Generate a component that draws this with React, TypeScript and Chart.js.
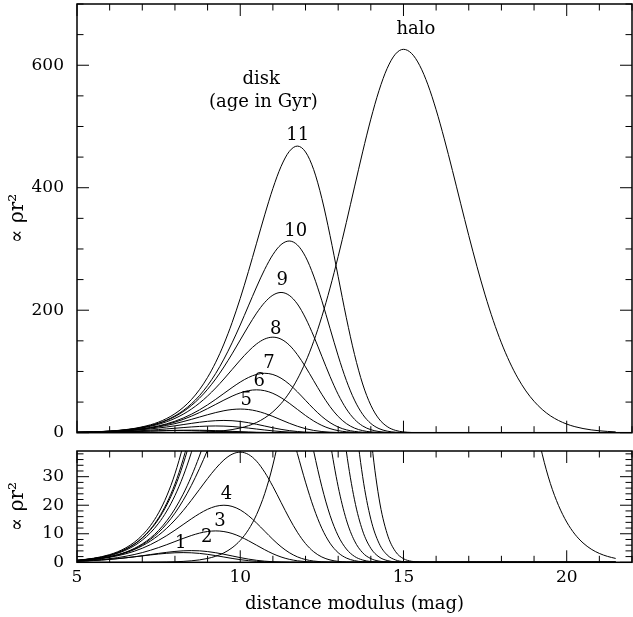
import React, { useEffect, useRef } from 'react';
import { Chart, registerables } from 'chart.js';

Chart.register(...registerables);

// distance modulus grid (mag)
const X = [
  5, 5.25, 5.5, 5.75, 6, 6.25, 6.5, 6.75, 7, 7.25, 7.5, 7.75, 8, 8.25, 8.5, 8.75,
  9, 9.25, 9.5, 9.75, 10, 10.25, 10.5, 10.75, 11, 11.25, 11.5, 11.75, 12, 12.25, 12.5, 12.75,
  13, 13.25, 13.5, 13.75, 14, 14.25, 14.5, 14.75, 15, 15.25, 15.5, 15.75, 16, 16.25, 16.5, 16.75,
  17, 17.25, 17.5, 17.75, 18, 18.25, 18.5, 18.75, 19, 19.25, 19.5, 19.75, 20, 20.25, 20.5, 20.75,
  21, 21.25, 21.5,
];

// disk, age 1 Gyr
const AGE_1 = [
  0.39, 0.51, 0.66, 0.84, 1.05, 1.31, 1.59, 1.91, 2.25, 2.58, 2.9, 3.16, 3.34, 3.4, 3.33, 3.12,
  2.78, 2.34, 1.85, 1.36, 0.93, 0.58, 0.33, 0.16, 0.07, 0.03, 0.01, 0, 0, 0, 0, 0,
  0, 0, 0, 0, 0, 0, 0, 0, 0, 0, 0, 0, 0, 0, 0, 0,
  0, 0, 0, 0, 0, 0, 0, 0, 0, 0, 0, 0, 0, 0, 0, 0,
  0, 0, 0,
];
const AGE_2 = [
  0.36, 0.47, 0.61, 0.79, 1.01, 1.27, 1.57, 1.92, 2.3, 2.71, 3.12, 3.49, 3.81, 4.02, 4.1, 4.02,
  3.76, 3.35, 2.82, 2.23, 1.64, 1.12, 0.7, 0.39, 0.2, 0.09, 0.03, 0.01, 0, 0, 0, 0,
  0, 0, 0, 0, 0, 0, 0, 0, 0, 0, 0, 0, 0, 0, 0, 0,
  0, 0, 0, 0, 0, 0, 0, 0, 0, 0, 0, 0, 0, 0, 0, 0,
  0, 0, 0,
];
const AGE_3 = [
  0.41, 0.55, 0.73, 0.96, 1.27, 1.65, 2.12, 2.71, 3.4, 4.22, 5.16, 6.18, 7.27, 8.36, 9.37, 10.22,
  10.79, 11, 10.77, 10.1, 8.99, 7.57, 5.99, 4.41, 3.0, 1.87, 1.05, 0.53, 0.24, 0.09, 0.03, 0.01,
  0, 0, 0, 0, 0, 0, 0, 0, 0, 0, 0, 0, 0, 0, 0, 0,
  0, 0, 0, 0, 0, 0, 0, 0, 0, 0, 0, 0, 0, 0, 0, 0,
  0, 0, 0,
];
const AGE_4 = [
  0.55, 0.74, 0.99, 1.33, 1.75, 2.3, 3.0, 3.86, 4.92, 6.19, 7.68, 9.37, 11.24, 13.22, 15.2, 17.04,
  18.58, 19.62, 20, 19.59, 18.36, 16.35, 13.77, 10.89, 8.02, 5.46, 3.4, 1.91, 0.96, 0.43, 0.16, 0.05,
  0.01, 0, 0, 0, 0, 0, 0, 0, 0, 0, 0, 0, 0, 0, 0, 0,
  0, 0, 0, 0, 0, 0, 0, 0, 0, 0, 0, 0, 0, 0, 0, 0,
  0, 0, 0,
];
const AGE_5 = [
  0.57, 0.78, 1.06, 1.43, 1.92, 2.56, 3.38, 4.44, 5.79, 7.45, 9.5, 11.95, 14.82, 18.09, 21.7, 25.52,
  29.34, 32.89, 35.86, 37.87, 38.6, 37.81, 35.43, 31.55, 26.58, 21.01, 15.48, 10.54, 6.56, 3.69, 1.86, 0.83,
  0.32, 0.1, 0.03, 0.01, 0, 0, 0, 0, 0, 0, 0, 0, 0, 0, 0, 0,
  0, 0, 0, 0, 0, 0, 0, 0, 0, 0, 0, 0, 0, 0, 0, 0,
  0, 0, 0,
];
const AGE_6 = [
  0.56, 0.76, 1.04, 1.42, 1.92, 2.59, 3.48, 4.64, 6.14, 8.06, 10.49, 13.52, 17.22, 21.67, 26.87, 32.81,
  39.35, 46.28, 53.2, 59.65, 65.02, 68.67, 70, 68.57, 64.25, 57.22, 48.2, 38.11, 28.08, 19.11, 11.89, 6.7,
  3.37, 1.5, 0.58, 0.19, 0.05, 0.01, 0, 0, 0, 0, 0, 0, 0, 0, 0, 0,
  0, 0, 0, 0, 0, 0, 0, 0, 0, 0, 0, 0, 0, 0, 0, 0,
  0, 0, 0,
];
const AGE_7 = [
  0.56, 0.77, 1.06, 1.44, 1.97, 2.67, 3.59, 4.82, 6.43, 8.5, 11.16, 14.54, 18.73, 23.86, 30.02, 37.24,
  45.46, 54.52, 64.14, 73.72, 82.66, 90.1, 95.16, 97, 95.01, 89.03, 79.29, 66.78, 52.81, 38.91, 26.48, 16.48,
  9.28, 4.67, 2.07, 0.8, 0.26, 0.07, 0.02, 0, 0, 0, 0, 0, 0, 0, 0, 0,
  0, 0, 0, 0, 0, 0, 0, 0, 0, 0, 0, 0, 0, 0, 0, 0,
  0, 0, 0,
];
const AGE_8 = [
  0.65, 0.9, 1.24, 1.7, 2.32, 3.16, 4.29, 5.78, 7.76, 10.34, 13.68, 17.96, 23.38, 30.12, 38.38, 48.28,
  59.89, 73.12, 87.69, 103.1, 118.6, 132.9, 144.9, 153.0, 156, 152.8, 143.2, 127.5, 107.4, 84.9, 62.6, 42.6,
  26.5, 14.9, 7.51, 3.34, 1.29, 0.42, 0.12, 0.03, 0, 0, 0, 0, 0, 0, 0, 0,
  0, 0, 0, 0, 0, 0, 0, 0, 0, 0, 0, 0, 0, 0, 0, 0,
  0, 0, 0,
];
const AGE_9 = [
  0.69, 0.96, 1.32, 1.82, 2.49, 3.41, 4.64, 6.29, 8.49, 11.39, 15.17, 20.08, 26.36, 34.33, 44.22, 56.33,
  70.88, 87.91, 107.3, 128.7, 151.4, 174.0, 195.2, 212.7, 224.6, 229, 224.3, 210.2, 187.2, 157.7, 124.7, 91.9,
  62.5, 38.9, 21.9, 11.0, 4.9, 1.89, 0.62, 0.17, 0.04, 0.01, 0, 0, 0, 0, 0, 0,
  0, 0, 0, 0, 0, 0, 0, 0, 0, 0, 0, 0, 0, 0, 0, 0,
  0, 0, 0,
];
const AGE_10 = [
  0.68, 0.94, 1.31, 1.8, 2.48, 3.41, 4.66, 6.34, 8.6, 11.6, 15.56, 20.74, 27.44, 36.03, 46.92, 60.44,
  77.0, 96.87, 120.2, 146.7, 175.9, 207.0, 237.9, 266.7, 290.7, 307.1, 313, 306.6, 287.3, 255.8, 215.5, 170.4,
  125.5, 85.4, 53.2, 30.0, 15.1, 6.7, 2.58, 0.85, 0.23, 0.05, 0.01, 0, 0, 0, 0, 0,
  0, 0, 0, 0, 0, 0, 0, 0, 0, 0, 0, 0, 0, 0, 0, 0,
  0, 0, 0,
];
const AGE_11 = [
  0.73, 1.02, 1.41, 1.95, 2.7, 3.71, 5.1, 6.97, 9.49, 12.86, 17.34, 23.27, 31.01, 41.03, 53.87, 70.15,
  90.37, 115.1, 144.8, 179.7, 219.3, 263.1, 309.4, 355.7, 398.8, 434.7, 459.1, 468, 458.4, 429.5, 382.5, 322.2,
  254.8, 187.7, 127.8, 79.5, 44.8, 22.5, 10.0, 3.86, 1.27, 0.35, 0.08, 0.01, 0, 0, 0, 0,
  0, 0, 0, 0, 0, 0, 0, 0, 0, 0, 0, 0, 0, 0, 0, 0,
  0, 0, 0,
];
// halo
const HALO = [
  0, 0, 0, 0, 0, 0.004, 0.008, 0.013, 0.022, 0.04, 0.066, 0.11, 0.19, 0.31, 0.52, 0.84,
  1.35, 2.12, 3.31, 5.08, 7.67, 11.4, 16.7, 24.08, 34.1, 47.47, 64.98, 87.45, 115.3, 149.2, 189.7, 236.1,
  287.8, 343.4, 401.3, 458.5, 512.0, 558.5, 594.8, 618.0, 626, 619.2, 599.3, 568.0, 527.3, 479.8, 428.1, 374.7,
  321.9, 271.6, 225.0, 183.2, 146.7, 115.6, 89.5, 68.2, 51.3, 37.9, 27.6, 19.9, 14.1, 9.85, 6.79, 4.61,
  3.11, 2.07, 1.35,
];

const SERIES = [AGE_1, AGE_2, AGE_3, AGE_4, AGE_5, AGE_6, AGE_7, AGE_8, AGE_9, AGE_10, AGE_11, HALO];

const X_TICKS = [5, 10, 15, 20];
const TOP_Y_TICKS = [0, 200, 400, 600];
const BOTTOM_Y_TICKS = [0, 10, 20, 30];

const TOP_LABELS = [
  { text: 'halo', x: 15.38, y: 658 },
  { text: 'disk', x: 10.64, y: 577 },
  { text: '(age in Gyr)', x: 10.71, y: 540 },
  { text: '11', x: 11.76, y: 486 },
  { text: '10', x: 11.7, y: 329 },
  { text: '9', x: 11.29, y: 248 },
  { text: '8', x: 11.09, y: 168 },
  { text: '7', x: 10.88, y: 113 },
  { text: '6', x: 10.58, y: 83.5 },
  { text: '5', x: 10.18, y: 53 },
];
const BOTTOM_LABELS = [
  { text: '4', x: 9.58, y: 23.7 },
  { text: '3', x: 9.38, y: 14.2 },
  { text: '2', x: 8.97, y: 8.9 },
  { text: '1', x: 8.18, y: 6.8 },
];

const FAMILY = '"DejaVu Serif", "Liberation Serif", serif';

function makeFrame(yMinor: number, yMajor: number) {
  return {
    id: 'frame',
    afterDatasetsDraw(chart: any) {
      const { ctx, chartArea: a } = chart;
      const xs = chart.scales.x;
      const ys = chart.scales.y;
      ctx.save();
      ctx.strokeStyle = '#000';
      ctx.lineWidth = 1;
      ctx.beginPath();
      for (let v = Math.ceil(xs.min); v <= xs.max + 1e-9; v += 1) {
        const p = xs.getPixelForValue(v);
        const L = v % 5 === 0 ? 12 : 6.5;
        ctx.moveTo(p, a.bottom);
        ctx.lineTo(p, a.bottom - L);
        ctx.moveTo(p, a.top);
        ctx.lineTo(p, a.top + L);
      }
      for (let v = ys.min; v <= ys.max + 1e-9; v += yMinor) {
        const p = ys.getPixelForValue(v);
        const r = v / yMajor;
        const L = Math.abs(r - Math.round(r)) < 1e-6 ? 12 : 6.5;
        ctx.moveTo(a.left, p);
        ctx.lineTo(a.left + L, p);
        ctx.moveTo(a.right, p);
        ctx.lineTo(a.right - L, p);
      }
      ctx.stroke();
      ctx.lineWidth = 1.5;
      ctx.strokeRect(a.left, a.top, a.right - a.left, a.bottom - a.top);
      ctx.restore();
    },
  };
}

function makeLabels(labels: { text: string; x: number; y: number }[]) {
  return {
    id: 'curveLabels',
    afterDatasetsDraw(chart: any) {
      const ctx = chart.ctx;
      ctx.save();
      ctx.fillStyle = '#000';
      ctx.font = `18px ${FAMILY}`;
      ctx.textAlign = 'center';
      ctx.textBaseline = 'middle';
      labels.forEach((l) => {
        ctx.fillText(l.text, chart.scales.x.getPixelForValue(l.x), chart.scales.y.getPixelForValue(l.y));
      });
      ctx.restore();
    },
  };
}

function buildConfig(isTop: boolean): any {
  const tickFont = { family: FAMILY, size: 17 };
  return {
    type: 'line',
    data: {
      datasets: SERIES.map((s) => ({
        data: X.map((x, i) => ({ x, y: s[i] })),
        borderColor: '#000',
        borderWidth: 1,
        pointRadius: 0,
        fill: false,
        cubicInterpolationMode: 'monotone',
      })),
    },
    options: {
      responsive: false,
      animation: false,
      events: [],
      layout: { padding: { left: 0, right: 1, top: isTop ? 4 : 6, bottom: 0 } },
      plugins: { legend: { display: false }, tooltip: { enabled: false } },
      scales: {
        x: {
          type: 'linear',
          min: 5,
          max: 22,
          grid: { display: false, drawTicks: false },
          border: { display: false },
          ticks: {
            display: !isTop,
            autoSkip: false,
            maxRotation: 0,
            padding: 5,
            color: '#000',
            font: tickFont,
          },
          afterBuildTicks: (s: any) => {
            s.ticks = X_TICKS.map((v) => ({ value: v }));
          },
          afterFit: (s: any) => {
            s.height = isTop ? 12.3 : 54.7;
            s.paddingLeft = 0;
            s.paddingRight = 0;
            s.paddingTop = 0;
            s.paddingBottom = 0;
          },
          title: {
            display: !isTop,
            text: 'distance modulus (mag)',
            color: '#000',
            font: { family: FAMILY, size: 18 },
            padding: { top: 2, bottom: 2 },
          },
        },
        y: {
          type: 'linear',
          min: 0,
          max: isTop ? 700 : 39,
          grid: { display: false, drawTicks: false },
          border: { display: false },
          ticks: { padding: 13, color: '#000', font: tickFont },
          afterBuildTicks: (s: any) => {
            s.ticks = (isTop ? TOP_Y_TICKS : BOTTOM_Y_TICKS).map((v) => ({ value: v }));
          },
          afterFit: (s: any) => {
            s.width = 77;
            s.paddingLeft = 0;
            s.paddingRight = 0;
            s.paddingTop = 0;
            s.paddingBottom = 0;
          },
          title: {
            display: true,
            text: '∝ ρr²',
            color: '#000',
            font: { family: FAMILY, size: 20 },
            padding: { top: 6, bottom: 0 },
          },
        },
      },
    },
    plugins: [
      isTop ? makeFrame(50, 200) : makeFrame(2, 10),
      makeLabels(isTop ? TOP_LABELS : BOTTOM_LABELS),
    ],
  };
}

export default function App() {
  const topRef = useRef<HTMLCanvasElement>(null);
  const botRef = useRef<HTMLCanvasElement>(null);
  useEffect(() => {
    const c1 = new Chart(topRef.current as HTMLCanvasElement, buildConfig(true));
    const c2 = new Chart(botRef.current as HTMLCanvasElement, buildConfig(false));
    return () => {
      c1.destroy();
      c2.destroy();
    };
  }, []);
  return (
    <div style={{ position: 'absolute', left: 0, top: 0, width: 633, height: 617, background: '#fff' }}>
      <canvas
        ref={topRef}
        width={633}
        height={445}
        style={{ position: 'absolute', left: 0, top: 0, width: 633, height: 445 }}
      />
      <canvas
        ref={botRef}
        width={633}
        height={172}
        style={{ position: 'absolute', left: 0, top: 445, width: 633, height: 172 }}
      />
    </div>
  );
}
